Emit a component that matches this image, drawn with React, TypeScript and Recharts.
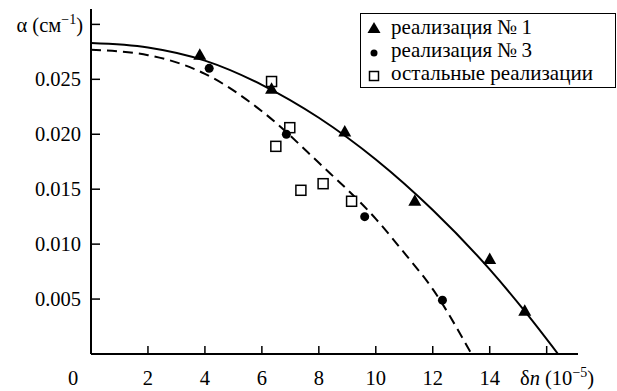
import { ComposedChart, Line, Scatter, XAxis, YAxis, Label } from 'recharts';

// реализация №1 (triangles)
const real1X = [3.82, 6.34, 8.91, 11.37, 14.0, 15.23];
const real1Y = [0.0272, 0.0241, 0.0202, 0.0139, 0.0086, 0.0039];

// реализация №3 (circles)
const real3X = [4.15, 6.86, 9.61, 12.34];
const real3Y = [0.026, 0.02, 0.0125, 0.0049];

// остальные реализации (squares)
const otherX = [6.34, 6.98, 6.49, 7.37, 8.15, 9.15];
const otherY = [0.0248, 0.0206, 0.0189, 0.0149, 0.0155, 0.0139];

// fitted curves
const solidX = [0, 2, 4, 6, 8, 10, 12, 14, 15.23, 16.4];
const solidY = [0.0283, 0.0279, 0.0267, 0.0245, 0.0215, 0.0177, 0.0131, 0.0077, 0.0039, 0];
const dashedX = [0, 2, 4, 6, 8, 10, 11, 12, 13.36];
const dashedY = [0.0277, 0.0272, 0.0255, 0.0221, 0.0174, 0.0123, 0.0092, 0.0059, 0];

const xTicks = [0, 2, 4, 6, 8, 10, 12, 14, 16];
const yTicks = [0.005, 0.01, 0.015, 0.02, 0.025, 0.03];

const zip = (xs: number[], ys: number[]) => xs.map((x, i) => ({ x, y: ys[i] }));

const FONT = '"Liberation Serif", "Times New Roman", "DejaVu Serif", serif';
const FS = 20.5;

const Triangle = ({ cx, cy }: any) => (
  <path d={`M${cx},${cy - 7} L${cx + 6.5},${cy + 4.5} L${cx - 6.5},${cy + 4.5} Z`} fill="#000" />
);
const Dot = ({ cx, cy }: any) => <circle cx={cx} cy={cy} r={4.5} fill="#000" />;
const Square = ({ cx, cy }: any) => (
  <rect x={cx - 5} y={cy - 5} width={10} height={10} fill="#fff" stroke="#000" strokeWidth={1.5} />
);

const XTick = ({ x, y, payload }: any) => {
  const v = payload.value;
  return (
    <g>
      {v !== 0 && <line x1={x} x2={x} y1={y} y2={y - 8} stroke="#000" strokeWidth={1.5} />}
      {v !== 16 && (
        <text x={v === 0 ? x - 18 : x} y={y + 31} textAnchor="middle" style={{ fontFamily: FONT, fontSize: FS }} fill="#000">
          {v}
        </text>
      )}
    </g>
  );
};

const YTick = ({ x, y, payload }: any) => {
  const v = payload.value;
  return (
    <g>
      <line x1={x} x2={x + 9} y1={y} y2={y} stroke="#000" strokeWidth={1.5} />
      {v < 0.029 && (
        <text x={x - 10} y={y + 7} textAnchor="end" style={{ fontFamily: FONT, fontSize: FS }} fill="#000">
          {v.toFixed(3)}
        </text>
      )}
    </g>
  );
};

const legendRows = [
  { name: 'реализация №\u20091', mark: <path d="M7,2 L13.5,13 L0.5,13 Z" fill="#000" /> },
  { name: 'реализация №\u20093', mark: <circle cx={7} cy={10} r={3.5} fill="#000" /> },
  { name: 'остальные реализации', mark: <rect x={2.5} y={5.5} width={9} height={9} fill="#fff" stroke="#000" strokeWidth={1.5} /> },
];

const LegendBox = () => (
  <div
    style={{
      position: 'absolute',
      left: 360,
      top: 13,
      width: 256,
      height: 75,
      boxSizing: 'border-box',
      border: '1.5px solid #000',
      background: '#fff',
      padding: '2px 0 0 6px',
      fontFamily: FONT,
      fontSize: 21,
      lineHeight: 1,
    }}
  >
    {legendRows.map((r) => (
      <div key={r.name} style={{ display: 'flex', alignItems: 'center', height: 23 }}>
        <svg width={15} height={16} style={{ marginRight: 9, flex: 'none' }}>{r.mark}</svg>
        <span style={{ whiteSpace: 'nowrap' }}>{r.name}</span>
      </div>
    ))}
  </div>
);

export default function App() {
  return (
    <div style={{ position: 'absolute', left: 0, top: 0, width: 617, height: 391, background: '#fff' }}>
      <ComposedChart width={617} height={391} margin={{ top: 9, right: 39, bottom: 0, left: 0 }}>
        <XAxis
          type="number"
          dataKey="x"
          domain={[0, 17.1]}
          ticks={xTicks}
          allowDataOverflow
          height={37}
          tickSize={0}
          tickMargin={0}
          tickLine={false}
          axisLine={{ stroke: '#000', strokeWidth: 2 }}
          tick={<XTick />}
        >
          <Label
            content={({ viewBox }: any) => (
              <text x={viewBox.x + viewBox.width - 58} y={viewBox.y + 31} style={{ fontFamily: FONT, fontSize: FS }} fill="#000">
                δ<tspan fontStyle="italic">n</tspan> (10<tspan dy={-8} fontSize={14}>−5</tspan><tspan dy={8}>)</tspan>
              </text>
            )}
          />
        </XAxis>
        <YAxis
          type="number"
          dataKey="y"
          domain={[0, 0.0314]}
          ticks={yTicks}
          allowDataOverflow
          width={91}
          tickSize={0}
          tickMargin={0}
          tickLine={false}
          axisLine={{ stroke: '#000', strokeWidth: 2 }}
          tick={<YTick />}
        >
          <Label
            content={({ viewBox }: any) => (
              <text x={viewBox.x + viewBox.width - 8} y={viewBox.y + 23} textAnchor="end" style={{ fontFamily: FONT, fontSize: FS }} fill="#000">
                α (см<tspan dy={-8} fontSize={14}>−1</tspan><tspan dy={8}>)</tspan>
              </text>
            )}
          />
        </YAxis>
        <Line data={zip(solidX, solidY)} dataKey="y" type="monotone" stroke="#000" strokeWidth={2} dot={false} isAnimationActive={false} />
        <Line data={zip(dashedX, dashedY)} dataKey="y" type="monotone" stroke="#000" strokeWidth={2} strokeDasharray="10 6" dot={false} isAnimationActive={false} />
        <Scatter data={zip(otherX, otherY)} dataKey="y" shape={<Square />} isAnimationActive={false} />
        <Scatter data={zip(real3X, real3Y)} dataKey="y" shape={<Dot />} isAnimationActive={false} />
        <Scatter data={zip(real1X, real1Y)} dataKey="y" shape={<Triangle />} isAnimationActive={false} />
      </ComposedChart>
      <LegendBox />
    </div>
  );
}
